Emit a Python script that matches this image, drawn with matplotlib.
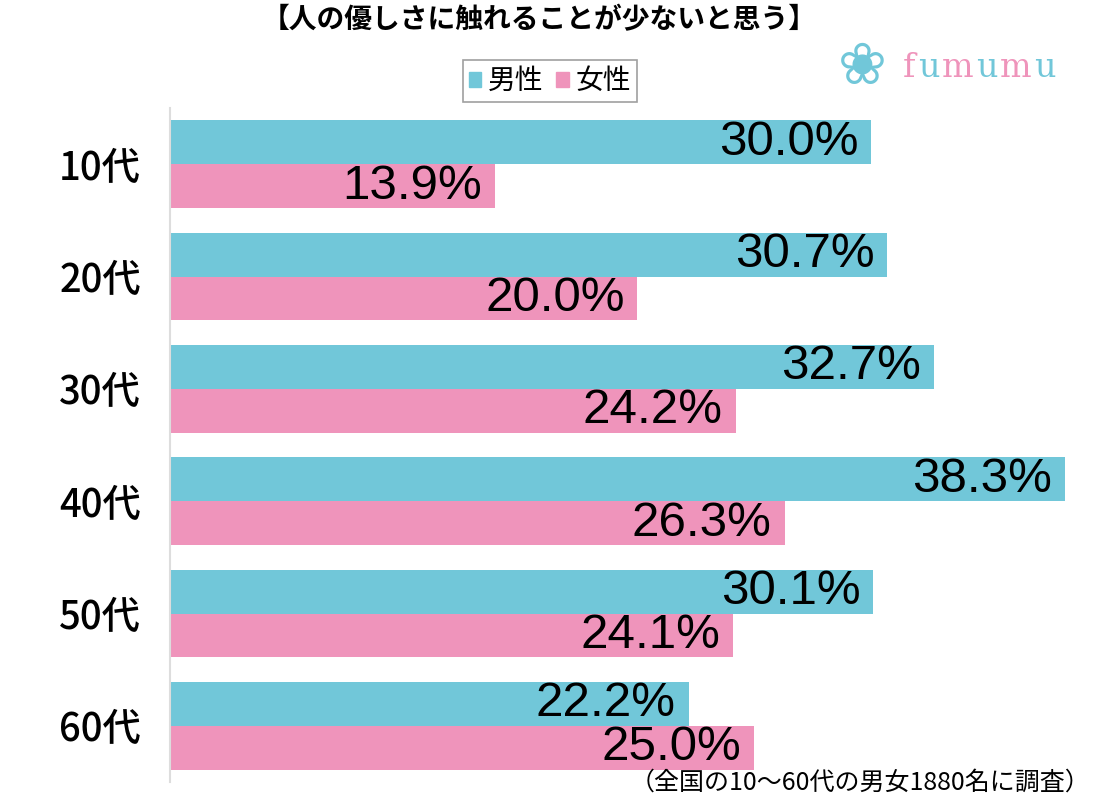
import matplotlib
matplotlib.use('Agg')
import matplotlib.pyplot as plt
import numpy as np
from matplotlib.patches import Patch

plt.rcParams['font.family'] = ['Noto Sans CJK JP', 'DejaVu Sans']

CATEGORIES = ['10代', '20代', '30代', '40代', '50代', '60代']
MALE = [30.0, 30.7, 32.7, 38.3, 30.1, 22.2]
FEMALE = [13.9, 20.0, 24.2, 26.3, 24.1, 25.0]
TITLE = '【人の優しさに触れることが少ないと思う】'
NOTE = '（全国の10～60代の男女1880名に調査）'

CYAN = '#71c7d9'
PINK = '#ef94bb'

fig = plt.figure(figsize=(11.02, 8), dpi=100)
ax = fig.add_axes([170 / 1102, 18 / 800, 920 / 1102, 674 / 800])

y = np.arange(len(CATEGORIES))
h = 0.39
ax.barh(y - h / 2, MALE, height=h, color=CYAN)
ax.barh(y + h / 2, FEMALE, height=h, color=PINK)

for yi, m, f in zip(y, MALE, FEMALE):
    ax.text(m - 0.55, yi - h / 2, f'{m:.1f}%', ha='right', va='center',
            fontsize=35.5, family='Liberation Sans')
    ax.text(f - 0.55, yi + h / 2, f'{f:.1f}%', ha='right', va='center',
            fontsize=35.5, family='Liberation Sans')

ax.set_xlim(0, 920 / 23.37)
ax.set_ylim(len(CATEGORIES) - 0.5, -0.5)
ax.set_yticks(y)
ax.set_yticklabels(CATEGORIES, fontsize=27.5, fontweight='medium')
ax.tick_params(axis='y', length=0, pad=21)
ax.set_xticks([])
for s in ['top', 'right', 'bottom']:
    ax.spines[s].set_visible(False)
ax.spines['left'].set_color('#dddddd')
ax.spines['left'].set_linewidth(1.5)

fig.text(539 / 1102, 1 - 20 / 800, TITLE, ha='center', va='center',
         fontsize=20, fontweight='bold')

handles = [Patch(color=CYAN, label='男性'), Patch(color=PINK, label='女性')]
leg = fig.legend(handles=handles, loc='center', bbox_to_anchor=(550 / 1102, 1 - 81 / 800),
                 ncol=2, fontsize=20, frameon=True, fancybox=False,
                 handlelength=0.45, handleheight=0.45, handletextpad=0.25,
                 columnspacing=0.45, borderpad=0.2, borderaxespad=0)
leg.get_frame().set_edgecolor('#888888')
leg.get_frame().set_linewidth(1.2)

fig.text(1090 / 1102, 1 - 783 / 800, NOTE, ha='right', va='center', fontsize=18)

# logo
fig.text(862 / 1102, 1 - 68 / 800, '❀', ha='center', va='center', fontsize=42,
         color=CYAN, family='DejaVu Sans')
fig.canvas.draw()
renderer = fig.canvas.get_renderer()
xpos = 903
for i, ch in enumerate('fumumu'):
    t = fig.text(xpos / 1102, 1 - 68 / 800, ch, ha='left', va='center',
                 fontsize=24, family='DejaVu Serif',
                 color=PINK if i % 2 == 0 else CYAN)
    xpos += t.get_window_extent(renderer).width + 2.5

fig.savefig('out.png', dpi=100)
